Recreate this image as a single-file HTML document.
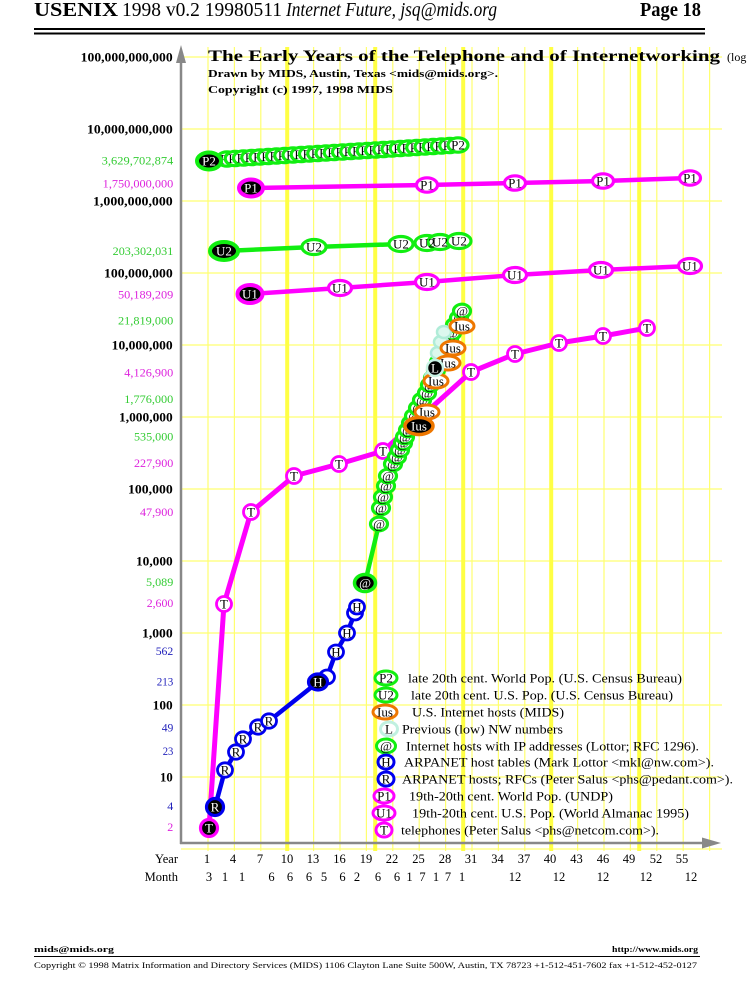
<!DOCTYPE html>
<html><head><meta charset="utf-8"><style>
html,body{margin:0;padding:0;background:#fff}
svg{display:block}
.mt{font-size:13px;text-anchor:middle;fill:#000}
.mw{font-size:13px;text-anchor:middle;fill:#fff}
.lg{font-size:13px;fill:#000}
</style></head><body>
<svg width="750" height="1000" viewBox="0 0 750 1000" xmlns="http://www.w3.org/2000/svg" font-family="'Liberation Serif', serif">
<rect width="750" height="1000" fill="#fff"/>
<!-- header -->
<text x="34" y="16" font-size="20" font-weight="bold" textLength="84" lengthAdjust="spacingAndGlyphs">USENIX</text>
<text x="122" y="16" font-size="20" textLength="160" lengthAdjust="spacingAndGlyphs">1998 v0.2 19980511</text>
<text x="286" y="16" font-size="20" font-style="italic" textLength="211" lengthAdjust="spacingAndGlyphs">Internet Future, jsq@mids.org</text>
<text x="640" y="16" font-size="20" font-weight="bold" textLength="61" lengthAdjust="spacingAndGlyphs">Page 18</text>
<rect x="34" y="28" width="671" height="2" fill="#000"/>
<rect x="34" y="32.5" width="671" height="2" fill="#000"/>

<!-- grid -->
<g stroke="#ffff70" stroke-width="1.2">
<line x1="181" y1="57" x2="722" y2="57"/><line x1="181" y1="129" x2="722" y2="129"/><line x1="181" y1="201" x2="722" y2="201"/><line x1="181" y1="273" x2="722" y2="273"/><line x1="181" y1="345" x2="722" y2="345"/><line x1="181" y1="417" x2="722" y2="417"/><line x1="181" y1="489" x2="722" y2="489"/><line x1="181" y1="561" x2="722" y2="561"/><line x1="181" y1="633" x2="722" y2="633"/><line x1="181" y1="705" x2="722" y2="705"/><line x1="181" y1="777" x2="722" y2="777"/><line x1="181" y1="849" x2="722" y2="849"/>
<line x1="208" y1="47" x2="208" y2="851"/><line x1="234.4" y1="47" x2="234.4" y2="851"/><line x1="260.8" y1="47" x2="260.8" y2="851"/><line x1="287.2" y1="47" x2="287.2" y2="851"/><line x1="313.6" y1="47" x2="313.6" y2="851"/><line x1="340" y1="47" x2="340" y2="851"/><line x1="366.4" y1="47" x2="366.4" y2="851"/><line x1="392.8" y1="47" x2="392.8" y2="851"/><line x1="419.2" y1="47" x2="419.2" y2="851"/><line x1="445.6" y1="47" x2="445.6" y2="851"/><line x1="472" y1="47" x2="472" y2="851"/><line x1="498.4" y1="47" x2="498.4" y2="851"/><line x1="524.8" y1="47" x2="524.8" y2="851"/><line x1="551.2" y1="47" x2="551.2" y2="851"/><line x1="577.6" y1="47" x2="577.6" y2="851"/><line x1="604" y1="47" x2="604" y2="851"/><line x1="630.4" y1="47" x2="630.4" y2="851"/><line x1="656.8" y1="47" x2="656.8" y2="851"/><line x1="683.2" y1="47" x2="683.2" y2="851"/><line x1="709.6" y1="47" x2="709.6" y2="851"/>
</g>
<g stroke="#ffff44" stroke-width="4">
<line x1="287.2" y1="47" x2="287.2" y2="851"/><line x1="375.2" y1="47" x2="375.2" y2="851"/><line x1="463.2" y1="47" x2="463.2" y2="851"/><line x1="551.2" y1="47" x2="551.2" y2="851"/><line x1="639.2" y1="47" x2="639.2" y2="851"/>
</g>

<!-- axes -->
<line x1="181" y1="58" x2="181" y2="844" stroke="#888" stroke-width="2.5"/>
<polygon points="176,63 181,45 186,63" fill="#888"/>
<line x1="180" y1="843" x2="706" y2="843" stroke="#888" stroke-width="2.5"/>
<polygon points="702,837.5 721,843 702,848.5" fill="#888"/>

<!-- title -->
<text x="208" y="61" font-size="16" font-weight="bold" textLength="512" lengthAdjust="spacingAndGlyphs">The Early Years of the Telephone and of Internetworking</text>
<text x="727" y="61" font-size="12">(log</text>
<text x="208" y="77" font-size="10.5" font-weight="bold" textLength="290" lengthAdjust="spacingAndGlyphs">Drawn by MIDS, Austin, Texas &lt;mids@mids.org&gt;.</text>
<text x="208" y="93" font-size="10.5" font-weight="bold" textLength="185" lengthAdjust="spacingAndGlyphs">Copyright (c) 1997, 1998 MIDS</text>

<!-- y labels bold -->
<g font-size="13" font-weight="bold" text-anchor="end" fill="#000">
<text x="172.7" y="61.5" textLength="92" lengthAdjust="spacingAndGlyphs">100,000,000,000</text>
<text x="172.7" y="133.5" textLength="85.7" lengthAdjust="spacingAndGlyphs">10,000,000,000</text>
<text x="172.7" y="205.5" textLength="79.7" lengthAdjust="spacingAndGlyphs">1,000,000,000</text>
<text x="172.7" y="277.5" textLength="68.7" lengthAdjust="spacingAndGlyphs">100,000,000</text>
<text x="172.7" y="349.5" textLength="61" lengthAdjust="spacingAndGlyphs">10,000,000</text>
<text x="172.7" y="421.5" textLength="53.7" lengthAdjust="spacingAndGlyphs">1,000,000</text>
<text x="172.7" y="493.5" textLength="44.7" lengthAdjust="spacingAndGlyphs">100,000</text>
<text x="172.7" y="565.5" textLength="36.7" lengthAdjust="spacingAndGlyphs">10,000</text>
<text x="172.7" y="637.5" textLength="30.7" lengthAdjust="spacingAndGlyphs">1,000</text>
<text x="172.7" y="709.5" textLength="20" lengthAdjust="spacingAndGlyphs">100</text>
<text x="172.7" y="781.5" textLength="12.7" lengthAdjust="spacingAndGlyphs">10</text>
</g>
<!-- y labels colored -->
<g font-size="12" text-anchor="end">
<text x="173.3" y="164.7" fill="#33cc33" textLength="71.6" lengthAdjust="spacingAndGlyphs">3,629,702,874</text>
<text x="173.3" y="187.5" fill="#dd22dd" textLength="70.6" lengthAdjust="spacingAndGlyphs">1,750,000,000</text>
<text x="173.3" y="254.8" fill="#33cc33" textLength="60.6" lengthAdjust="spacingAndGlyphs">203,302,031</text>
<text x="173.3" y="298.5" fill="#dd22dd" textLength="55.3" lengthAdjust="spacingAndGlyphs">50,189,209</text>
<text x="173.3" y="324.6" fill="#33cc33" textLength="55.3" lengthAdjust="spacingAndGlyphs">21,819,000</text>
<text x="173.3" y="376.7" fill="#dd22dd" textLength="49" lengthAdjust="spacingAndGlyphs">4,126,900</text>
<text x="173.3" y="403" fill="#33cc33" textLength="49" lengthAdjust="spacingAndGlyphs">1,776,000</text>
<text x="173.3" y="440.6" fill="#33cc33" textLength="39.3" lengthAdjust="spacingAndGlyphs">535,000</text>
<text x="173.3" y="467.2" fill="#dd22dd" textLength="39.3" lengthAdjust="spacingAndGlyphs">227,900</text>
<text x="173.3" y="516" fill="#dd22dd" textLength="33.3" lengthAdjust="spacingAndGlyphs">47,900</text>
<text x="173.3" y="586.1" fill="#33cc33" textLength="27.3" lengthAdjust="spacingAndGlyphs">5,089</text>
<text x="173.3" y="607.1" fill="#dd22dd" textLength="26.6" lengthAdjust="spacingAndGlyphs">2,600</text>
<text x="173.3" y="655" fill="#2222bb" textLength="17.6" lengthAdjust="spacingAndGlyphs">562</text>
<text x="173.3" y="685.4" fill="#2222bb" textLength="16.6" lengthAdjust="spacingAndGlyphs">213</text>
<text x="173.3" y="731.3" fill="#2222bb" textLength="11.6" lengthAdjust="spacingAndGlyphs">49</text>
<text x="173.3" y="755" fill="#2222bb" textLength="10.6" lengthAdjust="spacingAndGlyphs">23</text>
<text x="173.3" y="810" fill="#2222bb">4</text>
<text x="173.3" y="831" fill="#dd22dd">2</text>
</g>

<!-- series lines -->
<g fill="none" stroke-linejoin="round" stroke-linecap="round">
<path d="M209,828 L224,604 L251,512 L294,476 L339,464 L383,451 L471,372 L515,354 L559,343 L603,336 L647,328" stroke="#ff00ff" stroke-width="5"/>
<path d="M215,807 L225,770 L236,752 L243,739 L258,727 L269,721 L318,682 L327,677 L336,652 L347,633 L355,613 L357,607" stroke="#0000ee" stroke-width="4.5"/>
<path d="M365,583 L379,524 L381,508 L383,497 L386,486 L388,476 L393,464 L397,457 L400,450 L403,443 L405,437 L408,430 L411,423 L414,416 L418,408 L422,400 L427,393 L430,385 L433,378 L436,370 L439,362 L442,355 L445,347 L449,340 L452,333 L455,325 L459,318 L462,311" stroke="#11ee11" stroke-width="4.5"/>
<path d="M419,426 L427,412 L436,381 L448,363 L453,348 L462,326" stroke="#ee7700" stroke-width="3"/>
<path d="M250,294 L340,288 L427,282 L515,275 L601,270 L690,266" stroke="#ff00ff" stroke-width="4.5"/>
<path d="M251,188 L427,185 L515,183 L603,181 L690,178" stroke="#ff00ff" stroke-width="4.5"/>
<path d="M224,251 L314,247 L401,244 L427,243 L440,242 L459,241" stroke="#11ee11" stroke-width="4.5"/>
<path d="M209,161 L458,145" stroke="#11ee11" stroke-width="4.5"/>
</g>

<!-- T markers -->
<g fill="#fff" stroke="#ff00ff" stroke-width="2.8">
<ellipse cx="224" cy="604" rx="7.5" ry="7.5"/><ellipse cx="251" cy="512" rx="7.5" ry="7.5"/><ellipse cx="294" cy="476" rx="7.5" ry="7.5"/><ellipse cx="339" cy="464" rx="7.5" ry="7.5"/><ellipse cx="383" cy="451" rx="7.5" ry="7.5"/><ellipse cx="471" cy="372" rx="7.5" ry="7.5"/><ellipse cx="515" cy="354" rx="7.5" ry="7.5"/><ellipse cx="559" cy="343" rx="7.5" ry="7.5"/><ellipse cx="603" cy="336" rx="7.5" ry="7.5"/><ellipse cx="647" cy="328" rx="7.5" ry="7.5"/>
</g>
<text x="224" y="608.5" class="mt">T</text><text x="251" y="516.5" class="mt">T</text><text x="294" y="480.5" class="mt">T</text><text x="339" y="468.5" class="mt">T</text><text x="383" y="455.5" class="mt">T</text><text x="471" y="376.5" class="mt">T</text><text x="515" y="358.5" class="mt">T</text><text x="559" y="347.5" class="mt">T</text><text x="603" y="340.5" class="mt">T</text><text x="647" y="332.5" class="mt">T</text>
<ellipse cx="209" cy="828" rx="8.5" ry="8.5" fill="#000" stroke="#ff00ff" stroke-width="3.2"/>
<text x="209" y="832.5" class="mw">T</text>

<!-- R markers -->
<g fill="#fff" stroke="#0000ee" stroke-width="2.8">
<ellipse cx="225" cy="770" rx="7.5" ry="7.2"/><ellipse cx="236" cy="752" rx="7.5" ry="7.2"/><ellipse cx="243" cy="739" rx="7.5" ry="7.2"/><ellipse cx="258" cy="727" rx="7.5" ry="7.2"/><ellipse cx="269" cy="721" rx="7.5" ry="7.2"/>
</g>
<text x="225" y="774.5" class="mt">R</text><text x="236" y="756.5" class="mt">R</text><text x="243" y="743.5" class="mt">R</text><text x="258" y="731.5" class="mt">R</text><text x="269" y="725.5" class="mt">R</text>
<ellipse cx="215" cy="807" rx="8.5" ry="8.5" fill="#000" stroke="#0000ee" stroke-width="3.2"/>
<text x="215" y="811.5" class="mw">R</text>

<!-- H markers -->
<g fill="#fff" stroke="#0000ee" stroke-width="2.8">
<ellipse cx="327" cy="677" rx="7.5" ry="7"/><ellipse cx="336" cy="652" rx="7.5" ry="7"/><ellipse cx="347" cy="633" rx="7.5" ry="7"/><ellipse cx="355" cy="613" rx="7.5" ry="7"/><ellipse cx="357" cy="607" rx="7.5" ry="7"/>
</g>
<text x="336" y="656.5" class="mt">H</text><text x="347" y="637.5" class="mt">H</text><text x="357" y="611.5" class="mt">H</text>
<ellipse cx="318" cy="682" rx="9.5" ry="8" fill="#000" stroke="#0000ee" stroke-width="3.2"/>
<text x="318" y="686.5" class="mw">H</text>

<!-- @ markers -->
<g font-style="italic">
<ellipse cx="379" cy="524" rx="8.5" ry="6.8" fill="#fff" stroke="#11ee11" stroke-width="3.2"/><text x="379" y="528.5" class="mt">@</text>
<ellipse cx="381" cy="508" rx="8.5" ry="6.8" fill="#fff" stroke="#11ee11" stroke-width="3.2"/><text x="381" y="512.5" class="mt">@</text>
<ellipse cx="383" cy="497" rx="8.5" ry="6.8" fill="#fff" stroke="#11ee11" stroke-width="3.2"/><text x="383" y="501.5" class="mt">@</text>
<ellipse cx="386" cy="486" rx="8.5" ry="6.8" fill="#fff" stroke="#11ee11" stroke-width="3.2"/><text x="386" y="490.5" class="mt">@</text>
<ellipse cx="388" cy="476" rx="8.5" ry="6.8" fill="#fff" stroke="#11ee11" stroke-width="3.2"/><text x="388" y="480.5" class="mt">@</text>
<ellipse cx="393" cy="464" rx="8.5" ry="6.8" fill="#fff" stroke="#11ee11" stroke-width="3.2"/><text x="393" y="468.5" class="mt">@</text>
<ellipse cx="397" cy="457" rx="8.5" ry="6.8" fill="#fff" stroke="#11ee11" stroke-width="3.2"/><text x="397" y="461.5" class="mt">@</text>
<ellipse cx="400" cy="450" rx="8.5" ry="6.8" fill="#fff" stroke="#11ee11" stroke-width="3.2"/><text x="400" y="454.5" class="mt">@</text>
<ellipse cx="403" cy="443" rx="8.5" ry="6.8" fill="#fff" stroke="#11ee11" stroke-width="3.2"/><text x="403" y="447.5" class="mt">@</text>
<ellipse cx="405" cy="437" rx="8.5" ry="6.8" fill="#fff" stroke="#11ee11" stroke-width="3.2"/><text x="405" y="441.5" class="mt">@</text>
<ellipse cx="408" cy="430" rx="8.5" ry="6.8" fill="#fff" stroke="#11ee11" stroke-width="3.2"/><text x="408" y="434.5" class="mt">@</text>
<ellipse cx="411" cy="423" rx="8.5" ry="6.8" fill="#fff" stroke="#11ee11" stroke-width="3.2"/><text x="411" y="427.5" class="mt">@</text>
<ellipse cx="414" cy="416" rx="8.5" ry="6.8" fill="#fff" stroke="#11ee11" stroke-width="3.2"/><text x="414" y="420.5" class="mt">@</text>
<ellipse cx="418" cy="408" rx="8.5" ry="6.8" fill="#fff" stroke="#11ee11" stroke-width="3.2"/><text x="418" y="412.5" class="mt">@</text>
<ellipse cx="422" cy="400" rx="8.5" ry="6.8" fill="#fff" stroke="#11ee11" stroke-width="3.2"/><text x="422" y="404.5" class="mt">@</text>
<ellipse cx="427" cy="393" rx="8.5" ry="6.8" fill="#fff" stroke="#11ee11" stroke-width="3.2"/><text x="427" y="397.5" class="mt">@</text>
<ellipse cx="430" cy="385" rx="8.5" ry="6.8" fill="#fff" stroke="#11ee11" stroke-width="3.2"/><text x="430" y="389.5" class="mt">@</text>
<ellipse cx="433" cy="378" rx="8.5" ry="6.8" fill="#fff" stroke="#11ee11" stroke-width="3.2"/><text x="433" y="382.5" class="mt">@</text>
<ellipse cx="436" cy="370" rx="8.5" ry="6.8" fill="#fff" stroke="#11ee11" stroke-width="3.2"/><text x="436" y="374.5" class="mt">@</text>
<ellipse cx="439" cy="362" rx="8.5" ry="6.8" fill="#fff" stroke="#11ee11" stroke-width="3.2"/><text x="439" y="366.5" class="mt">@</text>
<ellipse cx="442" cy="355" rx="8.5" ry="6.8" fill="#fff" stroke="#11ee11" stroke-width="3.2"/><text x="442" y="359.5" class="mt">@</text>
<ellipse cx="445" cy="347" rx="8.5" ry="6.8" fill="#fff" stroke="#11ee11" stroke-width="3.2"/><text x="445" y="351.5" class="mt">@</text>
<ellipse cx="449" cy="340" rx="8.5" ry="6.8" fill="#fff" stroke="#11ee11" stroke-width="3.2"/><text x="449" y="344.5" class="mt">@</text>
<ellipse cx="452" cy="333" rx="8.5" ry="6.8" fill="#fff" stroke="#11ee11" stroke-width="3.2"/><text x="452" y="337.5" class="mt">@</text>
<ellipse cx="455" cy="325" rx="8.5" ry="6.8" fill="#fff" stroke="#11ee11" stroke-width="3.2"/><text x="455" y="329.5" class="mt">@</text>
<ellipse cx="459" cy="318" rx="8.5" ry="6.8" fill="#fff" stroke="#11ee11" stroke-width="3.2"/><text x="459" y="322.5" class="mt">@</text>
<ellipse cx="462" cy="311" rx="8.5" ry="6.8" fill="#fff" stroke="#11ee11" stroke-width="3.2"/><text x="462" y="315.5" class="mt">@</text>
</g>
<ellipse cx="365" cy="583" rx="10.5" ry="8.5" fill="#000" stroke="#11ee11" stroke-width="3.5"/>
<text x="365" y="587.5" class="mw" font-style="italic">@</text>

<!-- L pale markers -->
<g fill="#dcf8ee" stroke="#b0ecd8" stroke-width="2.5">
<ellipse cx="432" cy="377" rx="7" ry="6"/><ellipse cx="438" cy="353" rx="7" ry="6"/><ellipse cx="441" cy="342" rx="7" ry="6"/><ellipse cx="444" cy="332" rx="7" ry="6"/>
</g>

<!-- Ius markers -->
<g fill="#fff" stroke="#ee7700" stroke-width="3">
<ellipse cx="427" cy="412" rx="12" ry="7"/><ellipse cx="436" cy="381" rx="12" ry="7"/><ellipse cx="448" cy="363" rx="12" ry="7"/><ellipse cx="453" cy="348" rx="12" ry="7"/><ellipse cx="462" cy="326" rx="12" ry="7"/>
</g>
<text x="427" y="416.5" class="mt">Ius</text><text x="436" y="385.5" class="mt">Ius</text><text x="448" y="367.5" class="mt">Ius</text><text x="453" y="352.5" class="mt">Ius</text><text x="462" y="330.5" class="mt">Ius</text>
<ellipse cx="419" cy="426" rx="14" ry="8.5" fill="#000" stroke="#ee7700" stroke-width="3.5"/>
<text x="419" y="430.5" class="mw">Ius</text>
<ellipse cx="435" cy="368" rx="8" ry="8" fill="#000" stroke="#c8f2e4" stroke-width="2.5"/>
<text x="435" y="372.5" class="mw">L</text>

<!-- U1 -->
<g fill="#fff" stroke="#ff00ff" stroke-width="3.2">
<ellipse cx="340" cy="288" rx="11.5" ry="7.5"/><ellipse cx="427" cy="282" rx="11.5" ry="7.5"/><ellipse cx="515" cy="275" rx="11.5" ry="7.5"/><ellipse cx="601" cy="270" rx="11.5" ry="7.5"/><ellipse cx="690" cy="266" rx="11.5" ry="7.5"/>
</g>
<text x="340" y="292.5" class="mt">U1</text><text x="427" y="286.5" class="mt">U1</text><text x="515" y="279.5" class="mt">U1</text><text x="601" y="274.5" class="mt">U1</text><text x="690" y="270.5" class="mt">U1</text>
<ellipse cx="250" cy="294" rx="12.5" ry="9" fill="#000" stroke="#ff00ff" stroke-width="4"/>
<text x="250" y="298.5" class="mw">U1</text>

<!-- P1 -->
<g fill="#fff" stroke="#ff00ff" stroke-width="3.2">
<ellipse cx="427" cy="185" rx="10.5" ry="7.2"/><ellipse cx="515" cy="183" rx="10.5" ry="7.2"/><ellipse cx="603" cy="181" rx="10.5" ry="7.2"/><ellipse cx="690" cy="178" rx="10.5" ry="7.2"/>
</g>
<text x="427" y="189.5" class="mt">P1</text><text x="515" y="187.5" class="mt">P1</text><text x="603" y="185.5" class="mt">P1</text><text x="690" y="182.5" class="mt">P1</text>
<ellipse cx="251" cy="188" rx="12" ry="8.5" fill="#000" stroke="#ff00ff" stroke-width="4"/>
<text x="251" y="192.5" class="mw">P1</text>

<!-- U2 -->
<g fill="#fff" stroke="#11ee11" stroke-width="3.2">
<ellipse cx="314" cy="247" rx="12" ry="7.5"/><ellipse cx="401" cy="244" rx="12" ry="7.5"/><ellipse cx="427" cy="243" rx="12" ry="7.5"/><ellipse cx="440" cy="242" rx="12" ry="7.5"/><ellipse cx="459" cy="241" rx="12" ry="7.5"/>
</g>
<text x="314" y="251.5" class="mt">U2</text><text x="401" y="248.5" class="mt">U2</text><text x="427" y="247.5" class="mt">U2</text><text x="440" y="246.5" class="mt">U2</text><text x="459" y="245.5" class="mt">U2</text>
<ellipse cx="224" cy="251" rx="14" ry="9" fill="#000" stroke="#11ee11" stroke-width="4"/>
<text x="224" y="255.5" class="mw">U2</text>

<!-- P2 chain -->
<ellipse cx="227" cy="159" rx="10" ry="7.2" fill="#fff" stroke="#11ee11" stroke-width="3.2"/><text x="227" y="163.5" class="mt">P2</text>
<ellipse cx="235.25" cy="158.5" rx="10" ry="7.2" fill="#fff" stroke="#11ee11" stroke-width="3.2"/><text x="235.25" y="163" class="mt">P2</text>
<ellipse cx="243.5" cy="158" rx="10" ry="7.2" fill="#fff" stroke="#11ee11" stroke-width="3.2"/><text x="243.5" y="162.5" class="mt">P2</text>
<ellipse cx="251.75" cy="157.5" rx="10" ry="7.2" fill="#fff" stroke="#11ee11" stroke-width="3.2"/><text x="251.75" y="162" class="mt">P2</text>
<ellipse cx="260" cy="157" rx="10" ry="7.2" fill="#fff" stroke="#11ee11" stroke-width="3.2"/><text x="260" y="161.5" class="mt">P2</text>
<ellipse cx="268.25" cy="156.5" rx="10" ry="7.2" fill="#fff" stroke="#11ee11" stroke-width="3.2"/><text x="268.25" y="161" class="mt">P2</text>
<ellipse cx="276.5" cy="156" rx="10" ry="7.2" fill="#fff" stroke="#11ee11" stroke-width="3.2"/><text x="276.5" y="160.5" class="mt">P2</text>
<ellipse cx="284.75" cy="155.5" rx="10" ry="7.2" fill="#fff" stroke="#11ee11" stroke-width="3.2"/><text x="284.75" y="160" class="mt">P2</text>
<ellipse cx="293" cy="155" rx="10" ry="7.2" fill="#fff" stroke="#11ee11" stroke-width="3.2"/><text x="293" y="159.5" class="mt">P2</text>
<ellipse cx="301.25" cy="154.5" rx="10" ry="7.2" fill="#fff" stroke="#11ee11" stroke-width="3.2"/><text x="301.25" y="159" class="mt">P2</text>
<ellipse cx="309.5" cy="154" rx="10" ry="7.2" fill="#fff" stroke="#11ee11" stroke-width="3.2"/><text x="309.5" y="158.5" class="mt">P2</text>
<ellipse cx="317.75" cy="153.5" rx="10" ry="7.2" fill="#fff" stroke="#11ee11" stroke-width="3.2"/><text x="317.75" y="158" class="mt">P2</text>
<ellipse cx="326" cy="153" rx="10" ry="7.2" fill="#fff" stroke="#11ee11" stroke-width="3.2"/><text x="326" y="157.5" class="mt">P2</text>
<ellipse cx="334.25" cy="152.5" rx="10" ry="7.2" fill="#fff" stroke="#11ee11" stroke-width="3.2"/><text x="334.25" y="157" class="mt">P2</text>
<ellipse cx="342.5" cy="152" rx="10" ry="7.2" fill="#fff" stroke="#11ee11" stroke-width="3.2"/><text x="342.5" y="156.5" class="mt">P2</text>
<ellipse cx="350.75" cy="151.5" rx="10" ry="7.2" fill="#fff" stroke="#11ee11" stroke-width="3.2"/><text x="350.75" y="156" class="mt">P2</text>
<ellipse cx="359" cy="151" rx="10" ry="7.2" fill="#fff" stroke="#11ee11" stroke-width="3.2"/><text x="359" y="155.5" class="mt">P2</text>
<ellipse cx="367.25" cy="150.5" rx="10" ry="7.2" fill="#fff" stroke="#11ee11" stroke-width="3.2"/><text x="367.25" y="155" class="mt">P2</text>
<ellipse cx="375.5" cy="150" rx="10" ry="7.2" fill="#fff" stroke="#11ee11" stroke-width="3.2"/><text x="375.5" y="154.5" class="mt">P2</text>
<ellipse cx="383.75" cy="149.5" rx="10" ry="7.2" fill="#fff" stroke="#11ee11" stroke-width="3.2"/><text x="383.75" y="154" class="mt">P2</text>
<ellipse cx="392" cy="149" rx="10" ry="7.2" fill="#fff" stroke="#11ee11" stroke-width="3.2"/><text x="392" y="153.5" class="mt">P2</text>
<ellipse cx="400.25" cy="148.5" rx="10" ry="7.2" fill="#fff" stroke="#11ee11" stroke-width="3.2"/><text x="400.25" y="153" class="mt">P2</text>
<ellipse cx="408.5" cy="148" rx="10" ry="7.2" fill="#fff" stroke="#11ee11" stroke-width="3.2"/><text x="408.5" y="152.5" class="mt">P2</text>
<ellipse cx="416.75" cy="147.5" rx="10" ry="7.2" fill="#fff" stroke="#11ee11" stroke-width="3.2"/><text x="416.75" y="152" class="mt">P2</text>
<ellipse cx="425" cy="147" rx="10" ry="7.2" fill="#fff" stroke="#11ee11" stroke-width="3.2"/><text x="425" y="151.5" class="mt">P2</text>
<ellipse cx="433.25" cy="146.5" rx="10" ry="7.2" fill="#fff" stroke="#11ee11" stroke-width="3.2"/><text x="433.25" y="151" class="mt">P2</text>
<ellipse cx="441.5" cy="146" rx="10" ry="7.2" fill="#fff" stroke="#11ee11" stroke-width="3.2"/><text x="441.5" y="150.5" class="mt">P2</text>
<ellipse cx="449.75" cy="145.5" rx="10" ry="7.2" fill="#fff" stroke="#11ee11" stroke-width="3.2"/><text x="449.75" y="150" class="mt">P2</text>
<ellipse cx="458" cy="145" rx="10" ry="7.2" fill="#fff" stroke="#11ee11" stroke-width="3.2"/><text x="458" y="149.5" class="mt">P2</text>
<ellipse cx="209" cy="161" rx="12" ry="8.5" fill="#000" stroke="#11ee11" stroke-width="4"/>
<text x="209" y="165.5" class="mw">P2</text>

<!-- legend -->
<ellipse cx="386" cy="678" rx="11" ry="7" fill="#fff" stroke="#11ee11" stroke-width="3"/><text x="386" y="682.5" class="mt">P2</text>
<ellipse cx="386" cy="695" rx="11" ry="7" fill="#fff" stroke="#11ee11" stroke-width="3"/><text x="386" y="699.5" class="mt">U2</text>
<ellipse cx="385" cy="712" rx="12" ry="7" fill="#fff" stroke="#ee7700" stroke-width="3"/><text x="385" y="716.5" class="mt">Ius</text>
<ellipse cx="389" cy="729" rx="8.5" ry="7" fill="#fff" stroke="#c0f0e0" stroke-width="3"/><text x="389" y="733.5" class="mt">L</text>
<ellipse cx="386" cy="746" rx="9.5" ry="7" fill="#fff" stroke="#11ee11" stroke-width="3"/><text x="386" y="750.5" class="mt" font-style="italic">@</text>
<ellipse cx="386" cy="762" rx="8" ry="7" fill="#fff" stroke="#0000ee" stroke-width="3"/><text x="386" y="766.5" class="mt">H</text>
<ellipse cx="386" cy="779" rx="8" ry="7" fill="#fff" stroke="#0000ee" stroke-width="3"/><text x="386" y="783.5" class="mt">R</text>
<ellipse cx="384" cy="796" rx="10" ry="7" fill="#fff" stroke="#ff00ff" stroke-width="3"/><text x="384" y="800.5" class="mt">P1</text>
<ellipse cx="384" cy="813" rx="11" ry="7" fill="#fff" stroke="#ff00ff" stroke-width="3"/><text x="384" y="817.5" class="mt">U1</text>
<ellipse cx="384" cy="830" rx="8" ry="7" fill="#fff" stroke="#ff00ff" stroke-width="3"/><text x="384" y="834.5" class="mt">T</text>
<text x="408" y="682.5" class="lg" textLength="274" lengthAdjust="spacingAndGlyphs">late 20th cent. World Pop. (U.S. Census Bureau)</text>
<text x="411" y="699.5" class="lg" textLength="262" lengthAdjust="spacingAndGlyphs">late 20th cent. U.S. Pop. (U.S. Census Bureau)</text>
<text x="412" y="716.5" class="lg" textLength="152" lengthAdjust="spacingAndGlyphs">U.S. Internet hosts (MIDS)</text>
<text x="402" y="733.5" class="lg" textLength="161" lengthAdjust="spacingAndGlyphs">Previous (low) NW numbers</text>
<text x="406" y="750.5" class="lg" textLength="293" lengthAdjust="spacingAndGlyphs">Internet hosts with IP addresses (Lottor; RFC 1296).</text>
<text x="404" y="766.5" class="lg" textLength="310" lengthAdjust="spacingAndGlyphs">ARPANET host tables (Mark Lottor &lt;mkl@nw.com&gt;).</text>
<text x="402" y="783.5" class="lg" textLength="331" lengthAdjust="spacingAndGlyphs">ARPANET hosts; RFCs (Peter Salus &lt;phs@pedant.com&gt;).</text>
<text x="409" y="800.5" class="lg" textLength="204" lengthAdjust="spacingAndGlyphs">19th-20th cent. World Pop. (UNDP)</text>
<text x="412" y="817.5" class="lg" textLength="277" lengthAdjust="spacingAndGlyphs">19th-20th cent. U.S. Pop. (World Almanac 1995)</text>
<text x="401" y="834.5" class="lg" textLength="258" lengthAdjust="spacingAndGlyphs">telephones (Peter Salus &lt;phs@netcom.com&gt;).</text>

<!-- x labels -->
<g font-size="12.5" fill="#000">
<text x="178" y="863" text-anchor="end">Year</text>
<text x="178" y="881" text-anchor="end">Month</text>
<g text-anchor="middle">
<text x="207" y="863">1</text><text x="233" y="863">4</text><text x="260" y="863">7</text><text x="287" y="863">10</text><text x="313" y="863">13</text><text x="339.5" y="863">16</text><text x="366" y="863">19</text><text x="392" y="863">22</text><text x="418.5" y="863">25</text><text x="445" y="863">28</text><text x="471" y="863">31</text><text x="497.5" y="863">34</text><text x="524" y="863">37</text><text x="550" y="863">40</text><text x="576.5" y="863">43</text><text x="603" y="863">46</text><text x="629" y="863">49</text><text x="656" y="863">52</text><text x="682" y="863">55</text>
<text x="209" y="881">3</text><text x="225" y="881">1</text><text x="242" y="881">1</text><text x="271.5" y="881">6</text><text x="290" y="881">6</text><text x="309" y="881">6</text><text x="324" y="881">5</text><text x="342.5" y="881">6</text><text x="357" y="881">2</text><text x="378" y="881">6</text><text x="397" y="881">6</text><text x="409.5" y="881">1</text><text x="422.5" y="881">7</text><text x="436" y="881">1</text><text x="448" y="881">7</text><text x="462" y="881">1</text><text x="515" y="881">12</text><text x="559" y="881">12</text><text x="603" y="881">12</text><text x="646" y="881">12</text><text x="691" y="881">12</text>
</g>
</g>

<!-- footer -->
<text x="34" y="952" font-size="8" font-weight="bold" textLength="80" lengthAdjust="spacingAndGlyphs">mids@mids.org</text>
<text x="612" y="952" font-size="8" font-weight="bold" textLength="86" lengthAdjust="spacingAndGlyphs">http://www.mids.org</text>
<rect x="34" y="956" width="666" height="1" fill="#000"/>
<text x="34" y="968" font-size="8" textLength="663" lengthAdjust="spacingAndGlyphs">Copyright © 1998 Matrix Information and Directory Services (MIDS) 1106 Clayton Lane Suite 500W, Austin, TX 78723 +1-512-451-7602 fax +1-512-452-0127</text>
</svg>
</body></html>
